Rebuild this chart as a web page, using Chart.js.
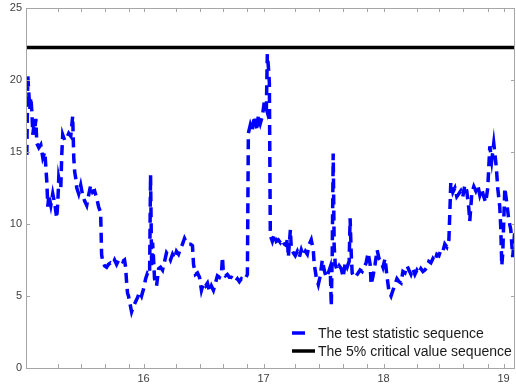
<!DOCTYPE html>
<html>
<head>
<meta charset="utf-8">
<script src="https://cdn.jsdelivr.net/npm/chart.js@4.4.1/dist/chart.umd.min.js"></script>
<style>
  html, body { margin: 0; padding: 0; background: #fff; }
  #wrap { width: 516px; height: 388px; }
</style>
</head>
<body>
<div id="wrap"><canvas id="chart" width="516" height="388"></canvas></div>
<script>
// time axis (year, e.g. 16 = 2016)
var timeVals = [
  15.027, 15.035, 15.044, 15.052, 15.060, 15.069, 15.077, 15.085, 15.094, 15.102,
  15.110, 15.127, 15.143, 15.160, 15.177, 15.185, 15.193, 15.202, 15.210, 15.227,
  15.243, 15.260, 15.276, 15.285, 15.293, 15.310, 15.318, 15.326, 15.343, 15.360,
  15.376, 15.393, 15.409, 15.418, 15.426, 15.434, 15.443, 15.459, 15.476, 15.492,
  15.509, 15.526, 15.542, 15.559, 15.576, 15.592, 15.609, 15.625, 15.642, 15.650,
  15.659, 15.675, 15.692, 15.708, 15.725, 15.742, 15.758, 15.775, 15.792, 15.808,
  15.825, 15.841, 15.850, 15.858, 15.866, 15.874, 15.883, 15.900, 15.916, 15.933,
  15.950, 15.966, 15.983, 16.000, 16.017, 16.033, 16.050, 16.058, 16.067, 16.075,
  16.083, 16.091, 16.108, 16.125, 16.141, 16.158, 16.175, 16.191, 16.208, 16.224,
  16.241, 16.258, 16.274, 16.291, 16.308, 16.324, 16.341, 16.358, 16.374, 16.391,
  16.407, 16.416, 16.432, 16.449, 16.466, 16.482, 16.499, 16.516, 16.532, 16.549,
  16.565, 16.582, 16.599, 16.615, 16.632, 16.649, 16.657, 16.665, 16.682, 16.698,
  16.715, 16.732, 16.748, 16.765, 16.782, 16.798, 16.815, 16.831, 16.848, 16.865,
  16.873, 16.890, 16.906, 16.923, 16.931, 16.948, 16.956, 16.973, 16.990, 17.006,
  17.023, 17.031, 17.040, 17.048, 17.056, 17.073, 17.090, 17.106, 17.123, 17.140,
  17.156, 17.173, 17.190, 17.198, 17.206, 17.223, 17.231, 17.248, 17.264, 17.281,
  17.298, 17.314, 17.331, 17.348, 17.364, 17.381, 17.397, 17.414, 17.422, 17.439,
  17.456, 17.472, 17.489, 17.505, 17.522, 17.539, 17.555, 17.564, 17.572, 17.580,
  17.588, 17.597, 17.613, 17.630, 17.647, 17.663, 17.680, 17.696, 17.713, 17.721,
  17.730, 17.738, 17.755, 17.771, 17.788, 17.804, 17.821, 17.838, 17.854, 17.871,
  17.888, 17.896, 17.912, 17.929, 17.946, 17.962, 17.979, 17.995, 18.012, 18.029,
  18.045, 18.062, 18.078, 18.095, 18.111, 18.128, 18.145, 18.161, 18.178, 18.195,
  18.211, 18.228, 18.244, 18.261, 18.278, 18.294, 18.311, 18.328, 18.344, 18.361,
  18.377, 18.394, 18.411, 18.427, 18.444, 18.461, 18.477, 18.494, 18.510, 18.527,
  18.544, 18.552, 18.560, 18.577, 18.594, 18.610, 18.627, 18.643, 18.660, 18.677,
  18.693, 18.710, 18.718, 18.735, 18.752, 18.768, 18.785, 18.802, 18.818, 18.835,
  18.851, 18.868, 18.885, 18.901, 18.918, 18.935, 18.943, 18.951, 18.968, 18.976,
  18.985, 18.993, 19.010, 19.026, 19.043, 19.060, 19.076, 19.093
];

// test statistic values
var testStat = [
  14.8, 20.3, 19.0, 18.0, 18.8, 17.8, 16.2, 16.8, 16.6, 17.3,
  15.6, 15.3, 15.5, 14.6, 15.0, 14.0, 13.0, 11.2, 12.0, 11.3,
  12.1, 11.4, 10.4, 11.5, 13.2, 12.5, 14.8, 16.2, 15.8, 16.0,
  16.3, 16.1, 17.5, 14.6, 13.6, 13.2, 12.5, 12.1, 12.7, 12.0,
  11.6, 11.3, 12.0, 12.7, 12.2, 12.3, 11.8, 11.2, 10.8, 7.9,
  7.4, 7.1, 7.0, 7.2, 7.3, 7.2, 7.5, 7.2, 7.5, 7.6,
  7.4, 7.5, 7.0, 6.0, 5.2, 5.0, 4.6, 3.9, 4.3, 4.6,
  4.9, 5.3, 5.0, 5.5, 6.2, 6.6, 6.5, 13.4, 7.0, 8.7,
  7.6, 6.2, 5.7, 6.9, 7.0, 6.8, 7.4, 8.0, 7.8, 7.5,
  7.9, 7.6, 8.1, 7.9, 8.3, 8.6, 9.0, 8.7, 8.6, 8.6,
  8.5, 7.2, 6.5, 6.6, 6.3, 5.4, 5.9, 5.7, 5.9, 5.3,
  5.7, 5.4, 5.9, 6.4, 6.3, 6.6, 7.7, 6.6, 6.4, 6.5,
  6.3, 6.3, 6.2, 6.0, 6.2, 6.0, 6.2, 6.1, 6.2, 6.5,
  16.3, 16.9, 16.5, 17.5, 17.1, 16.5, 17.6, 17.0, 17.5, 18.5,
  18.0, 21.8, 20.9, 19.8, 9.2, 8.8, 9.3, 8.8, 8.9, 8.7,
  8.9, 8.6, 8.5, 9.0, 7.7, 9.6, 8.3, 8.0, 7.8, 8.1,
  7.7, 8.2, 7.8, 8.1, 7.9, 8.6, 8.9, 8.2, 7.2, 6.3,
  5.8, 6.4, 7.5, 6.8, 6.3, 6.6, 7.0, 4.3, 8.0, 14.9,
  8.5, 7.2, 6.8, 7.1, 6.9, 6.3, 7.3, 7.0, 7.4, 10.4,
  8.0, 6.6, 6.3, 6.4, 6.6, 6.8, 6.7, 7.0, 7.3, 8.0,
  7.2, 5.8, 6.4, 7.2, 8.2, 7.6, 7.4, 7.0, 7.6, 6.3,
  5.3, 5.0, 5.4, 5.8, 6.2, 6.0, 5.9, 6.7, 6.6, 7.1,
  6.8, 6.5, 6.9, 6.5, 6.8, 6.6, 6.9, 6.7, 6.8, 7.0,
  7.4, 7.3, 7.6, 7.4, 7.9, 7.8, 8.2, 8.1, 8.6, 8.4,
  8.9, 10.8, 12.9, 12.2, 12.5, 11.9, 12.1, 12.3, 11.9, 12.7,
  12.3, 11.1, 10.2, 12.1, 12.6, 12.3, 12.7, 12.0, 12.4, 11.9,
  11.5, 12.5, 15.4, 14.4, 15.6, 14.3, 13.5, 12.5, 11.2, 9.8,
  7.1, 8.0, 12.5, 11.5, 10.3, 9.6, 7.7, 9.5
];

var criticalValue = 22.25;
var xRange = [15.02, 19.095];
var xMajorTicks = [16, 17, 18, 19];
var xMinorTicks = [15.285, 15.476, 15.676, 15.875, 16.274, 16.466, 16.665, 16.865,
                   17.264, 17.464, 17.663, 17.862, 18.278, 18.461, 18.660, 18.868];
var yTicks = [0, 5, 10, 15, 20, 25];
var seriesNames = ['The test statistic sequence', 'The 5% critical value sequence'];

var axisColor = '#a6a6a6';
var labelColor = '#404040';

// MATLAB style box with inward ticks on all four sides
var boxTicks = {
  id: 'boxTicks',
  afterDatasetsDraw: function(chart) {
    var ctx = chart.ctx, a = chart.chartArea;
    var xs = chart.scales.x, ys = chart.scales.y;
    var len = 4;
    ctx.save();
    ctx.strokeStyle = axisColor;
    ctx.lineWidth = 1;
    ctx.beginPath();
    ctx.rect(a.left + 0.5, a.top + 0.5, a.right - a.left - 1, a.bottom - a.top);
    xMajorTicks.concat(xMinorTicks).forEach(function(v) {
      var px = Math.round(xs.getPixelForValue(v)) + 0.5;
      ctx.moveTo(px, a.bottom); ctx.lineTo(px, a.bottom - len);
      ctx.moveTo(px, a.top); ctx.lineTo(px, a.top + len);
    });
    yTicks.forEach(function(v) {
      var py = Math.round(ys.getPixelForValue(v)) + 0.5;
      ctx.moveTo(a.left, py); ctx.lineTo(a.left + len, py);
      ctx.moveTo(a.right, py); ctx.lineTo(a.right - len, py);
    });
    ctx.stroke();
    ctx.restore();
  }
};

// legend drawn inside the lower right corner, no box
var innerLegend = {
  id: 'innerLegend',
  afterDraw: function(chart) {
    var ctx = chart.ctx, a = chart.chartArea;
    var x0 = a.right - 223;
    var rows = [a.bottom - 35, a.bottom - 17];
    ctx.save();
    ctx.font = '14px "Liberation Sans", Arial, sans-serif';
    ctx.textBaseline = 'middle';
    chart.data.datasets.forEach(function(ds, i) {
      var y = rows[i];
      ctx.strokeStyle = ds.borderColor;
      ctx.lineWidth = ds.borderWidth;
      ctx.setLineDash(ds.borderDash && ds.borderDash.length ? [13, 20] : []);
      ctx.beginPath();
      ctx.moveTo(x0, y);
      ctx.lineTo(x0 + 23, y);
      ctx.stroke();
      ctx.setLineDash([]);
      ctx.fillStyle = '#1a1a1a';
      ctx.fillText(ds.label, x0 + 26, y + 1);
    });
    ctx.restore();
  }
};

var statPoints = timeVals.map(function(t, i) { return { x: t, y: testStat[i] }; });
var critPoints = xRange.map(function(t) { return { x: t, y: criticalValue }; });

new Chart(document.getElementById('chart'), {
  type: 'line',
  data: {
    datasets: [{
      label: seriesNames[0],
      data: statPoints,
      borderColor: '#0000ff',
      borderWidth: 3.5,
      borderDash: [10, 6],
      pointRadius: 0,
      tension: 0,
      fill: false
    }, {
      label: seriesNames[1],
      data: critPoints,
      borderColor: '#000000',
      borderWidth: 3.5,
      pointRadius: 0,
      tension: 0,
      fill: false
    }]
  },
  options: {
    responsive: false,
    animation: false,
    devicePixelRatio: 1,
    layout: { padding: { top: 8, right: 1, left: 0, bottom: 0 } },
    plugins: {
      legend: { display: false },
      tooltip: { enabled: false }
    },
    scales: {
      x: {
        type: 'linear',
        min: xRange[0],
        max: xRange[1],
        afterBuildTicks: function(scale) {
          scale.ticks = xMajorTicks.map(function(v) { return { value: v }; });
        },
        afterFit: function(scale) {
          scale.height = 20;
          scale.paddingLeft = 0;
          scale.paddingRight = 0;
        },
        grid: { display: false, drawTicks: false },
        border: { display: false },
        ticks: {
          autoSkip: false,
          maxRotation: 0,
          padding: 4,
          color: labelColor,
          font: { family: '"Liberation Sans", Arial, sans-serif', size: 11 },
          callback: function(v) { return String(v); }
        }
      },
      y: {
        min: 0,
        max: 25,
        afterBuildTicks: function(scale) {
          scale.ticks = yTicks.map(function(v) { return { value: v }; });
        },
        afterFit: function(scale) {
          scale.width = 26;
          scale.paddingTop = 0;
          scale.paddingBottom = 0;
        },
        grid: { display: false, drawTicks: false },
        border: { display: false },
        ticks: {
          padding: 4,
          color: labelColor,
          font: { family: '"Liberation Sans", Arial, sans-serif', size: 11 }
        }
      }
    }
  },
  plugins: [boxTicks, innerLegend]
});
</script>
</body>
</html>
